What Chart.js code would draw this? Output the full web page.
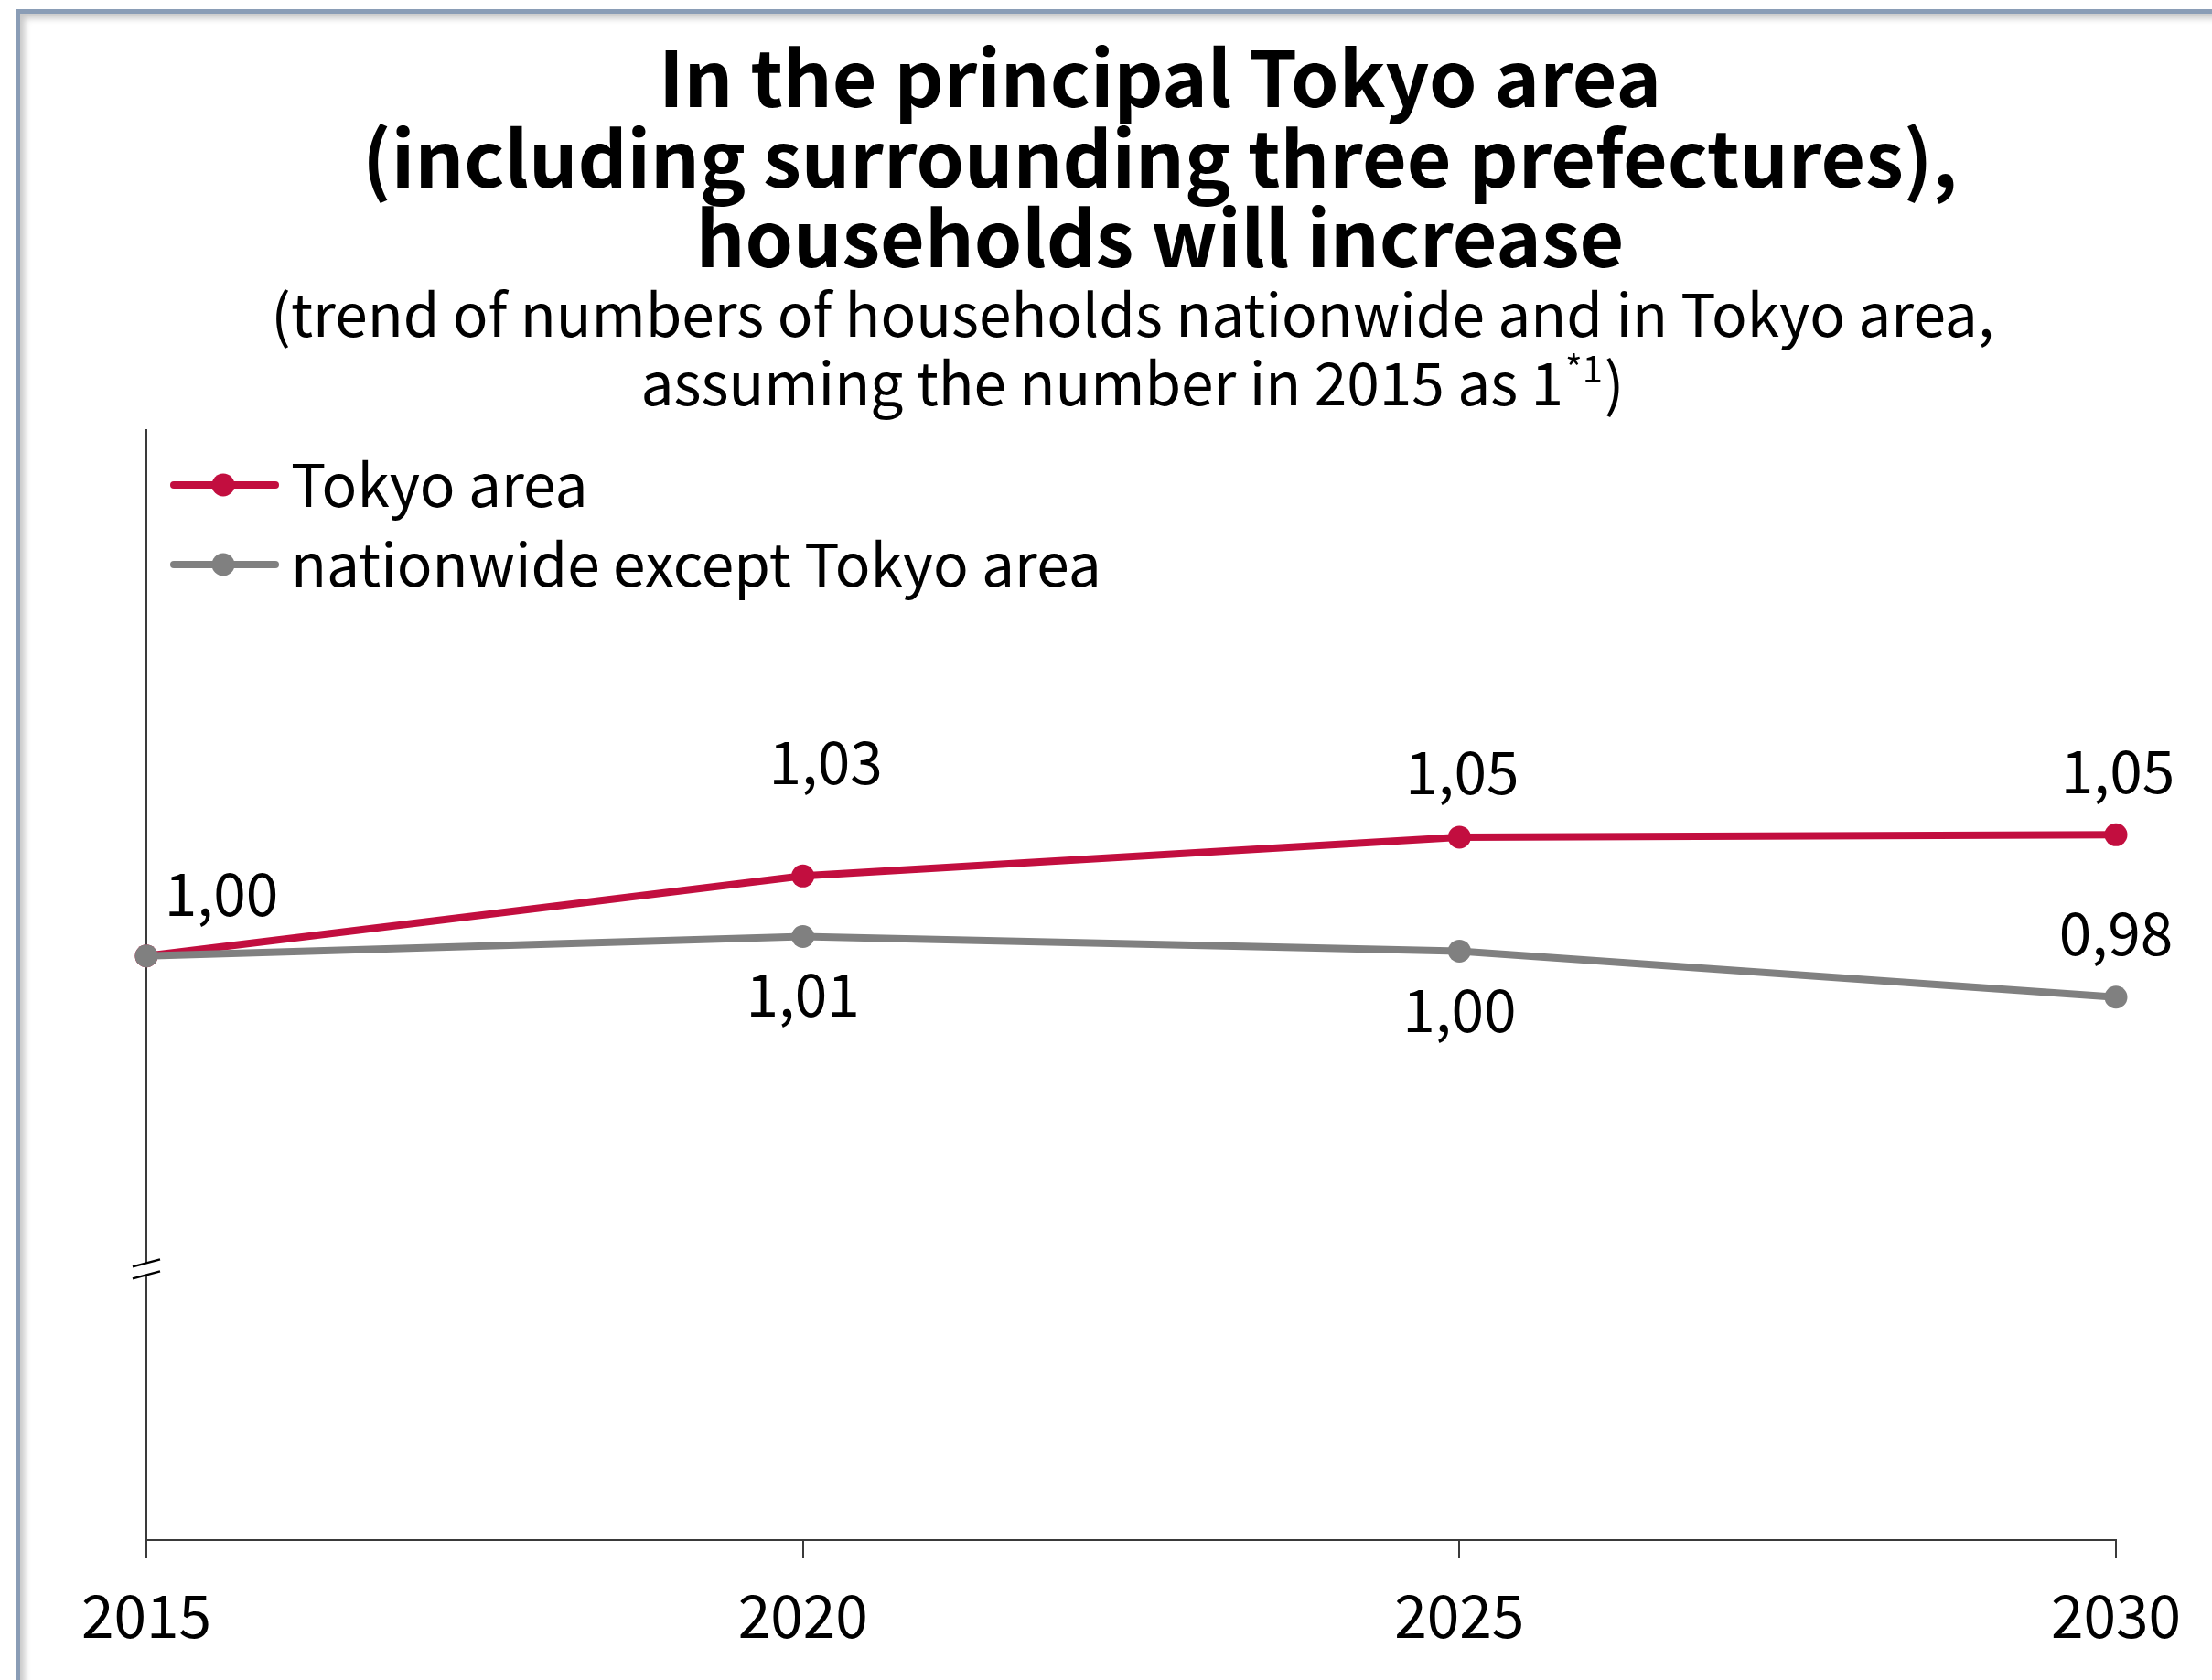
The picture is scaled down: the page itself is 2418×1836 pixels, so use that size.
<!DOCTYPE html>
<html>
<head>
<meta charset="utf-8">
<script src="https://cdn.jsdelivr.net/npm/chart.js@4.4.1/dist/chart.umd.min.js"></script>
<style>
  html, body { margin: 0; padding: 0; background: #fff; overflow: hidden; }
  body { width: 2418px; height: 1836px; position: relative; }
  #frame {
    position: absolute; left: 17px; top: 10px; width: 2600px; height: 2000px;
    border: 5px solid #8a9db6;
    box-shadow: inset 5px 5px 7px rgba(0, 0, 0, 0.22);
  }
  #wrap { position: absolute; left: 0; top: 0; width: 2418px; height: 1836px; }
</style>
</head>
<body>
<div id="frame"></div>
<div id="wrap"><canvas id="householdsChart" width="2418" height="1836"></canvas></div>
<script>
// data
const years = ["2015", "2020", "2025", "2030"];
const tokyoArea = [1.0, 1.033, 1.049, 1.05];
const nationwide = [1.0, 1.008, 1.002, 0.983];
const seriesNames = ["Tokyo area", "nationwide except Tokyo area"];
const titleLines = [
  "In the principal Tokyo area",
  "(including surrounding three prefectures),",
  "households will increase",
];
const subtitleLines = [
  "(trend of numbers of households nationwide and in Tokyo area,",
  "assuming the number in 2015 as 1",
];
const footnoteMark = "*1";

// where each value label sits relative to its point (null = no label)
const labelOffsets = [
  [[82, -68], [25, -125], [3, -71], [2, -70]],
  [null, [0, 63], [0, 64], [0, -70]],
];

const FONT = '"Noto Sans CJK JP", "Noto Sans", sans-serif';
const RED = "#c20e3f";
const GREY = "#808080";
const AXIS = "#3a3a3a";
const BREAK_AT = 0.871;

function fmt(v) {
  return v.toFixed(2).replace(".", ",");
}

// title + subtitle, drawn as text on the canvas
const headerPlugin = {
  id: "header",
  afterDraw(chart) {
    const ctx = chart.ctx;
    ctx.save();
    ctx.fillStyle = "#000";
    ctx.textBaseline = "alphabetic";
    ctx.textAlign = "center";
    ctx.font = `bold 84px ${FONT}`;
    titleLines.forEach((line, i) => ctx.fillText(line, 1268, 117 + i * 87.5));

    ctx.font = `64px ${FONT}`;
    ctx.fillText(subtitleLines[0], 1238, 368);

    // second line has a raised footnote mark
    ctx.textAlign = "left";
    const mainW = ctx.measureText(subtitleLines[1]).width;
    const closeW = ctx.measureText(")").width;
    ctx.font = `40px ${FONT}`;
    const noteW = ctx.measureText(footnoteMark).width + 4;
    let x = 1238 - (mainW + noteW + closeW) / 2;
    ctx.font = `64px ${FONT}`;
    ctx.fillText(subtitleLines[1], x, 443);
    x += mainW;
    ctx.font = `40px ${FONT}`;
    ctx.fillText(footnoteMark, x + 2, 418);
    x += noteW;
    ctx.font = `64px ${FONT}`;
    ctx.fillText(")", x, 443);
    ctx.restore();
  },
};

// legend in the top-left corner of the plot
const legendPlugin = {
  id: "cornerLegend",
  afterDraw(chart) {
    const ctx = chart.ctx;
    ctx.save();
    chart.data.datasets.forEach((ds, i) => {
      const y = 530 + i * 87;
      ctx.strokeStyle = ds.borderColor;
      ctx.lineWidth = 8;
      ctx.lineCap = "round";
      ctx.beginPath();
      ctx.moveTo(190, y);
      ctx.lineTo(301, y);
      ctx.stroke();
      ctx.fillStyle = ds.borderColor;
      ctx.beginPath();
      ctx.arc(244, y, 12.5, 0, Math.PI * 2);
      ctx.fill();
      ctx.fillStyle = "#000";
      ctx.font = `64px ${FONT}`;
      ctx.textAlign = "left";
      ctx.textBaseline = "middle";
      ctx.fillText(ds.label, 318, y);
    });
    ctx.restore();
  },
};

// value labels next to the points
const valueLabels = {
  id: "valueLabels",
  afterDatasetsDraw(chart) {
    const ctx = chart.ctx;
    ctx.save();
    ctx.fillStyle = "#000";
    ctx.font = `64px ${FONT}`;
    ctx.textAlign = "center";
    ctx.textBaseline = "middle";
    chart.data.datasets.forEach((ds, i) => {
      chart.getDatasetMeta(i).data.forEach((pt, j) => {
        const off = labelOffsets[i][j];
        if (!off) return;
        ctx.fillText(fmt(ds.data[j]), pt.x + off[0], pt.y + off[1]);
      });
    });
    ctx.restore();
  },
};

// the "≈" break mark on the y axis
const axisBreak = {
  id: "axisBreak",
  afterDraw(chart) {
    const ctx = chart.ctx;
    const cx = chart.chartArea.left;
    const cy = chart.scales.y.getPixelForValue(BREAK_AT);
    ctx.save();
    ctx.fillStyle = "#fff";
    ctx.beginPath();
    ctx.moveTo(cx - 15, cy - 2);
    ctx.lineTo(cx + 15, cy - 10);
    ctx.lineTo(cx + 15, cy + 3);
    ctx.lineTo(cx - 15, cy + 11);
    ctx.closePath();
    ctx.fill();
    ctx.strokeStyle = "#000";
    ctx.lineWidth = 2.5;
    ctx.beginPath();
    ctx.moveTo(cx - 15, cy - 2);
    ctx.lineTo(cx + 15, cy - 10);
    ctx.moveTo(cx - 15, cy + 11);
    ctx.lineTo(cx + 15, cy + 3);
    ctx.stroke();
    ctx.restore();
  },
};

const ctx = document.getElementById("householdsChart").getContext("2d");
new Chart(ctx, {
  type: "line",
  data: {
    labels: years,
    datasets: [
      {
        label: seriesNames[0],
        data: tokyoArea,
        borderColor: RED,
        backgroundColor: RED,
        pointBackgroundColor: RED,
        borderWidth: 8,
        pointRadius: 12.5,
        pointBorderWidth: 0,
        tension: 0,
        clip: false,
        order: 1,
      },
      {
        label: seriesNames[1],
        data: nationwide,
        borderColor: GREY,
        backgroundColor: GREY,
        pointBackgroundColor: GREY,
        borderWidth: 8,
        pointRadius: 12.5,
        pointBorderWidth: 0,
        tension: 0,
        clip: false,
        order: 0,
      },
    ],
  },
  options: {
    responsive: false,
    animation: false,
    events: [],
    layout: { padding: { left: 60, right: 5, top: 470, bottom: 0 } },
    scales: {
      x: {
        offset: false,
        grid: {
          drawOnChartArea: false,
          drawTicks: true,
          tickLength: 20,
          color: AXIS,
          lineWidth: 2,
        },
        border: { color: AXIS, width: 2 },
        ticks: {
          color: "#000",
          font: { family: FONT, size: 64, lineHeight: 1 },
          padding: 31,
          maxRotation: 0,
          autoSkip: false,
        },
        afterFit(scale) {
          scale.height = 153;
        },
      },
      y: {
        min: 0.759,
        max: 1.217,
        grid: { display: false },
        border: { color: AXIS, width: 2 },
        ticks: { display: false },
        afterFit(scale) {
          scale.width = 100;
        },
      },
      yPad: {
        position: "right",
        display: true,
        grid: { display: false },
        border: { display: false },
        ticks: { display: false },
        afterFit(scale) {
          scale.width = 100;
        },
      },
    },
    plugins: {
      legend: { display: false },
      tooltip: { enabled: false },
    },
  },
  plugins: [headerPlugin, legendPlugin, valueLabels, axisBreak],
});
</script>
</body>
</html>
